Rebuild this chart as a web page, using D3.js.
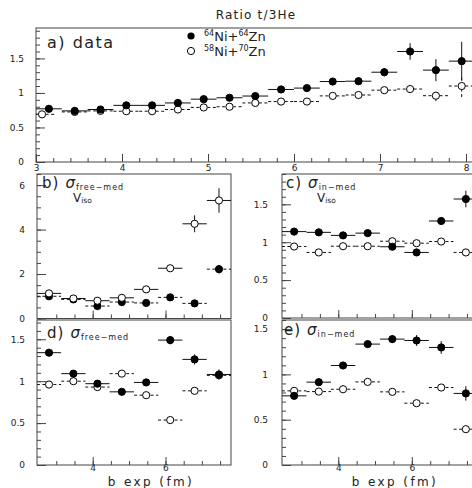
<!DOCTYPE html>
<meta charset="utf-8">
<style>
body { margin: 0; background: #fff; }
svg { display: block; }
text { font-family: "DejaVu Sans", sans-serif; fill: #222; }
.tick text { font-size: 9px; }
.frame { fill: none; stroke: #444; stroke-width: 1; }
.tick line { stroke: #444; }
</style>
<svg width="472" height="488"></svg>
<script src="https://cdn.jsdelivr.net/npm/d3@7"></script>
<script>

// panel a) data, 17 bins of b exp
var binsA      = [3.15,3.45,3.75,4.05,4.35,4.65,4.95,5.25,5.55,5.85,6.15,6.45,6.75,7.05,7.35,7.65,7.95];
var binsAOpen  = [3.07,3.45,3.75,4.05,4.35,4.65,4.95,5.25,5.55,5.85,6.15,6.45,6.75,7.05,7.35,7.65,7.95];
var aFilled    = [0.77,0.74,0.76,0.82,0.82,0.855,0.91,0.93,0.955,1.05,1.07,1.165,1.17,1.30,1.60,1.33,1.46];
var aFilledErr = [0.02,0.02,0.02,0.02,0.02,0.02,0.02,0.02,0.02,0.02,0.02,0.03,0.03,0.06,0.12,0.16,0.28];
var aOpen      = [0.69,0.725,0.74,0.735,0.735,0.76,0.79,0.80,0.855,0.875,0.875,0.957,0.97,1.04,1.056,0.96,1.10];
var aOpenErr   = [0.02,0.02,0.02,0.02,0.02,0.02,0.02,0.02,0.02,0.02,0.02,0.03,0.03,0.03,0.05,0.08,0.16];

// panels b-e, 8 bins
var binsB = [2.8,3.47,4.13,4.8,5.47,6.13,6.8,7.47];

var bFilled    = [1.0,0.86,0.56,0.74,0.70,0.95,0.68,2.22];
var bFilledErr = [0.05,0.05,0.05,0.05,0.05,0.05,0.05,0.2];
var bOpen      = [1.13,0.90,0.80,0.93,1.31,2.26,4.26,5.31];
var bOpenErr   = [0.05,0.05,0.05,0.06,0.08,0.1,0.38,0.55];

var cFilled    = [1.14,1.13,1.09,1.12,0.94,0.865,1.28,1.57];
var cFilledErr = [0.02,0.02,0.02,0.02,0.02,0.02,0.05,0.11];
var cOpen      = [0.943,0.865,0.947,0.947,1.013,0.987,1.009,0.865];
var cOpenErr   = [0.02,0.02,0.02,0.02,0.02,0.02,0.03,0.03];

var dFilled    = [1.34,1.09,0.97,0.873,0.985,1.49,1.26,1.08];
var dFilledErr = [0.02,0.02,0.02,0.02,0.03,0.05,0.06,0.06];
var dOpen      = [0.96,1.0,0.93,1.09,0.833,0.536,0.885,1.07];
var dOpenErr   = [0.02,0.02,0.02,0.02,0.02,0.02,0.02,0.02];

var eFilled    = [0.763,0.914,1.098,1.334,1.389,1.374,1.297,0.79];
var eFilledErr = [0.02,0.02,0.02,0.02,0.04,0.06,0.07,0.08];
var eOpen      = [0.818,0.81,0.836,0.917,0.807,0.682,0.855,0.395];
var eOpenErr   = [0.02,0.02,0.02,0.02,0.02,0.02,0.02,0.02];

var svg = d3.select("svg");
var uid = 0;

function range(a, b, s) {
  var out = [];
  for (var v = a; v <= b + 1e-9; v += s) out.push(+v.toFixed(3));
  return out;
}

function panel(o) {
  var x = d3.scaleLinear().domain(o.xd).range(o.xr);
  var y = d3.scaleLinear().domain(o.yd).range(o.yr);
  var g = svg.append("g");
  var id = "clip" + (uid++);
  g.append("clipPath").attr("id", id).append("rect")
    .attr("x", o.xr[0]).attr("y", o.yr[1])
    .attr("width", o.xr[1] - o.xr[0]).attr("height", o.yr[0] - o.yr[1]);

  // y axis ticks (inward)
  g.append("g").attr("transform", "translate(" + o.xr[0] + ",0)")
    .call(d3.axisLeft(y).tickValues(o.yMinor).tickSize(-4).tickFormat(""))
    .call(s => s.select(".domain").remove());
  g.append("g").attr("transform", "translate(" + o.xr[0] + ",0)")
    .call(d3.axisLeft(y).tickValues(o.yMajor).tickSize(-9).tickPadding(o.yPad).tickFormat(o.yFmt))
    .call(s => s.select(".domain").remove())
    .call(s => s.selectAll("text").attr("font-size", 9.5));

  // x axis ticks (inward)
  g.append("g").attr("transform", "translate(0," + o.yr[0] + ")")
    .call(d3.axisBottom(x).tickValues(o.xMinor).tickSize(-4).tickFormat(""))
    .call(s => s.select(".domain").remove());
  var xa = g.append("g").attr("transform", "translate(0," + o.yr[0] + ")")
    .call(d3.axisBottom(x).tickValues(o.xMajor).tickSize(-8).tickPadding(o.xPad)
      .tickFormat(o.xLabels ? d3.format("d") : ""))
    .call(s => s.select(".domain").remove());
  xa.selectAll("text").attr("font-size", o.xFont || 9);

  g.append("rect").attr("class", "frame")
    .attr("x", o.xr[0]).attr("y", o.yr[1])
    .attr("width", o.xr[1] - o.xr[0]).attr("height", o.yr[0] - o.yr[1]);

  var plot = g.append("g").attr("clip-path", "url(#" + id + ")");

  o.series.forEach(function(s) {
    var pts = s.y.map(function(v, i) { return { x: s.x[i], y: v, e: s.err[i] }; });
    var sg = plot.append("g");
    var dash = s.dash ? "3,2.5" : null;
    sg.selectAll("line.h").data(pts).enter().append("line")
      .attr("x1", d => x(d.x - s.hw)).attr("x2", d => x(d.x + s.hw))
      .attr("y1", d => y(d.y)).attr("y2", d => y(d.y))
      .attr("stroke", "#111").attr("stroke-width", 1).attr("stroke-dasharray", dash);
    sg.selectAll("line.v").data(pts).enter().append("line")
      .attr("x1", d => x(d.x)).attr("x2", d => x(d.x))
      .attr("y1", d => y(d.y - d.e)).attr("y2", d => y(d.y + d.e))
      .attr("stroke", "#111").attr("stroke-width", 1).attr("stroke-dasharray", dash);
    sg.selectAll("circle").data(pts).enter().append("circle")
      .attr("cx", d => x(d.x)).attr("cy", d => y(d.y)).attr("r", 3.6)
      .attr("fill", s.open ? "#fff" : "#000")
      .attr("stroke", "#000").attr("stroke-width", 1);
  });
  return g;
}

function sigmaLabel(g, x0, y0, letter, sub, iso) {
  var t = g.append("text").attr("x", x0).attr("y", y0).attr("font-size", 15).attr("letter-spacing", 1);
  t.append("tspan").text(letter + ")");
  t.append("tspan").attr("dx", 6).attr("font-style", "italic").text("σ");
  t.append("tspan").attr("font-size", 8).attr("dy", 2).text(sub);
  if (iso) {
    var v = g.append("text").attr("x", x0 + 31).attr("y", y0 + 14).attr("font-size", 12);
    v.append("tspan").text("V");
    v.append("tspan").attr("font-size", 7.5).attr("dy", 1).text("iso");
  }
}

// title
svg.append("text").attr("x", 256).attr("y", 19).attr("text-anchor", "middle")
  .attr("font-size", 12).attr("letter-spacing", 1.2).text("Ratio t/3He");

// a) data
var ga = panel({
  xd: [3, 8], xr: [36, 466], yd: [0, 1.94], yr: [162, 28],
  xMajor: [3,4,5,6,7,8], xMinor: range(3, 8.1, 0.2), xLabels: true, xPad: 3, xFont: 9.5,
  yMajor: [0,0.5,1,1.5], yMinor: range(0, 1.9, 0.1), yPad: 12, yFmt: d3.format("~g"),
  series: [
    { x: binsAOpen, y: aOpen, err: aOpenErr, hw: 0.15, open: true, dash: true },
    { x: binsA, y: aFilled, err: aFilledErr, hw: 0.15, open: false, dash: false }
  ]
});
// extend frame of a) past the right edge
ga.select(".frame").attr("width", 450);
ga.select("clipPath rect").attr("width", 450);
ga.append("text").attr("x", 47).attr("y", 48).attr("font-size", 16).attr("letter-spacing", 1.5).text("a) data");

// legend
svg.append("circle").attr("cx", 191).attr("cy", 36).attr("r", 3.6).attr("fill", "#000");
svg.append("circle").attr("cx", 191).attr("cy", 51).attr("r", 3.6).attr("fill", "#fff").attr("stroke", "#000");
var l1 = svg.append("text").attr("x", 204).attr("y", 41).attr("font-size", 13);
l1.append("tspan").attr("font-size", 8).attr("dy", -5).text("64");
l1.append("tspan").attr("dy", 5).text("Ni+");
l1.append("tspan").attr("font-size", 8).attr("dy", -5).text("64");
l1.append("tspan").attr("dy", 5).text("Zn");
var l2 = svg.append("text").attr("x", 204).attr("y", 56).attr("font-size", 13);
l2.append("tspan").attr("font-size", 8).attr("dy", -5).text("58");
l2.append("tspan").attr("dy", 5).text("Ni+");
l2.append("tspan").attr("font-size", 8).attr("dy", -5).text("70");
l2.append("tspan").attr("dy", 5).text("Zn");

var xMinorB = range(3, 7.5, 0.5);

// b)
var gb = panel({
  xd: [2.47, 7.8], xr: [37, 231], yd: [0, 6.5], yr: [318.5, 174],
  xMajor: [4, 6], xMinor: xMinorB, xLabels: false, xPad: 3,
  yMajor: [0,2,4,6], yMinor: range(0, 6.5, 0.5), yPad: 12, yFmt: d3.format("d"),
  series: [
    { x: binsB, y: bFilled, err: bFilledErr, hw: 0.333, open: false, dash: true },
    { x: binsB, y: bOpen, err: bOpenErr, hw: 0.333, open: true, dash: false }
  ]
});
sigmaLabel(gb, 42, 188, "b", "free−med", true);

// c)
var gc = panel({
  xd: [2.47, 7.8], xr: [282, 478], yd: [0, 1.9], yr: [318, 174],
  xMajor: [4, 6], xMinor: xMinorB, xLabels: false, xPad: 3,
  yMajor: [0,0.5,1,1.5], yMinor: range(0, 1.9, 0.1), yPad: 14, yFmt: d3.format("~g"),
  series: [
    { x: binsB, y: cOpen, err: cOpenErr, hw: 0.333, open: true, dash: true },
    { x: binsB, y: cFilled, err: cFilledErr, hw: 0.333, open: false, dash: false }
  ]
});
sigmaLabel(gc, 286, 188, "c", "in−med", true);

// d)
var gd = panel({
  xd: [2.47, 7.8], xr: [37, 231], yd: [0, 1.73], yr: [465, 320],
  xMajor: [4, 6], xMinor: xMinorB, xLabels: true, xPad: 0, xFont: 7.5,
  yMajor: [0,0.5,1,1.5], yMinor: range(0, 1.7, 0.1), yPad: 12, yFmt: d3.format("~g"),
  series: [
    { x: binsB, y: dOpen, err: dOpenErr, hw: 0.333, open: true, dash: true },
    { x: binsB, y: dFilled, err: dFilledErr, hw: 0.333, open: false, dash: false }
  ]
});
sigmaLabel(gd, 47, 338, "d", "free−med", false);

// e)
var ge = panel({
  xd: [2.47, 7.8], xr: [282, 478], yd: [0, 1.6], yr: [465, 320],
  xMajor: [4, 6], xMinor: xMinorB, xLabels: true, xPad: 0, xFont: 7.5,
  yMajor: [0,0.5,1,1.5], yMinor: range(0, 1.6, 0.1), yPad: 14, yFmt: d3.format("~g"),
  series: [
    { x: binsB, y: eOpen, err: eOpenErr, hw: 0.333, open: true, dash: true },
    { x: binsB, y: eFilled, err: eFilledErr, hw: 0.333, open: false, dash: false }
  ]
});
sigmaLabel(ge, 284, 335, "e", "in−med", false);

// axis titles
svg.append("text").attr("x", 151).attr("y", 485.5).attr("text-anchor", "middle")
  .attr("font-size", 12).attr("letter-spacing", 2.4).text("b exp (fm)");
svg.append("text").attr("x", 395).attr("y", 485.5).attr("text-anchor", "middle")
  .attr("font-size", 12).attr("letter-spacing", 2.4).text("b exp (fm)");

</script>
